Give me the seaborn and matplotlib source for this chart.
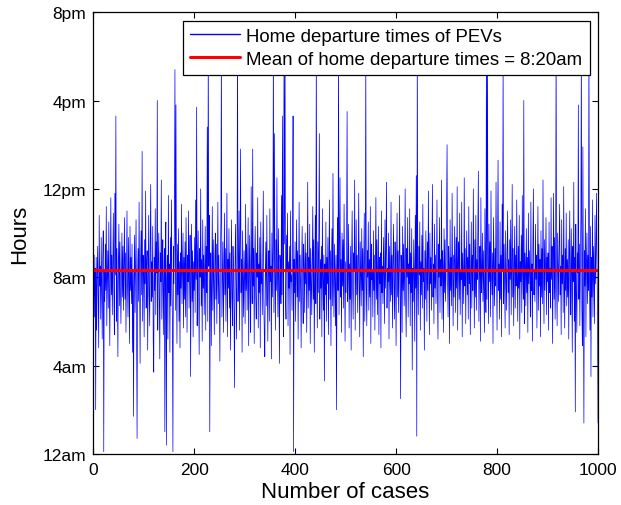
import numpy as np
import pandas as pd
import matplotlib
matplotlib.use("Agg")
import matplotlib.pyplot as plt
import seaborn as sns

# ---------------------------------------------------------------
# data: home departure time (hours after midnight) for each case
# ---------------------------------------------------------------
departure_hours = [
    7.1, 9.0, 6.2, 8.4, 2.0, 8.9, 5.6, 8.2, 9.4, 7.0, 4.8, 10.8, 7.6, 8.5, 6.1, 9.8, 7.3, 5.2, 8.7, 10.1,
    0.1, 8.3, 6.9, 9.5, 7.4, 11.2, 5.8, 8.0, 9.2, 6.6, 10.5, 7.8, 4.9, 8.6, 11.6, 7.2, 9.0, 6.3, 8.4, 10.9,
    7.5, 5.4, 11.8, 8.1, 15.3, 6.0, 9.3, 7.7, 4.4, 8.8, 10.4, 6.7, 9.6, 7.9, 5.9, 8.2, 10.0, 7.1, 9.4, 6.5,
    8.7, 10.7, 7.0, 9.1, 5.5, 8.4, 11.0, 7.6, 6.2, 9.8, 8.0, 5.0, 10.3, 7.4, 8.9, 6.8, 9.5, 4.6, 8.3, 1.7,
    7.8, 9.9, 6.4, 8.6, 10.6, 5.7, 0.7, 8.1, 9.3, 6.9, 11.4, 7.5, 4.1, 8.8, 10.1, 7.2, 13.7, 6.0, 9.0, 8.4,
    5.3, 9.7, 7.7, 11.9, 6.6, 8.5, 9.2, 4.7, 8.0, 10.8, 7.3, 5.8, 9.4, 12.2, 6.9, 8.7, 7.1, 10.3, 5.1, 3.7,
    8.9, 7.4, 11.1, 6.3, 9.6, 8.2, 16.0, 5.6, 8.8, 10.0, 7.0, 4.3, 9.1, 7.8, 12.4, 6.1, 8.5, 9.7, 5.4, 7.6,
    9.3, 1.0, 8.1, 10.5, 0.4, 7.9, 9.0, 5.2, 11.7, 7.3, 8.6, 4.6, 9.8, 6.7, 11.5, 8.2, 5.9, 0.1, 9.4, 7.7,
    10.9, 17.4, 6.5, 15.8, 8.0, 5.0, 9.5, 7.2, 10.2, 6.0, 8.7, 4.8, 9.1, 7.5, 11.3, 6.8, 8.4, 10.0, 5.7, 8.9,
    7.0, 9.6, 6.2, 10.7, 8.3, 5.5, 9.0, 7.8, 11.0, 6.6, 8.5, 9.9, 3.5, 8.1, 10.4, 6.9, 9.2, 5.3, 8.7, 7.4,
    9.8, 6.4, 11.5, 7.9, 15.7, 5.8, 8.6, 10.1, 7.1, 4.5, 9.3, 8.0, 12.0, 6.7, 8.8, 5.1, 10.6, 7.5, 9.0, 6.3,
    8.2, 10.3, 5.6, 9.4, 7.3, 14.8, 6.0, 19.0, 8.5, 10.8, 1.0, 7.8, 9.1, 4.9, 8.4, 11.2, 6.5, 9.7, 7.6, 5.4,
    8.9, 10.0, 7.0, 9.5, 5.9, 8.3, 11.4, 6.8, 9.0, 7.4, 4.2, 8.7, 10.5, 18.5, 6.2, 8.1, 9.6, 5.5, 7.9, 10.9,
    7.2, 9.3, 6.0, 8.6, 11.8, 5.3, 8.8, 7.5, 10.2, 6.6, 9.1, 4.7, 8.0, 10.6, 7.1, 5.8, 9.4, 8.2, 6.4, 3.0,
    8.5, 10.4, 7.7, 5.2, 9.0, 19.5, 6.9, 8.3, 11.0, 5.6, 9.7, 13.8, 7.3, 8.8, 4.6, 10.1, 7.9, 6.2, 9.2, 8.0,
    5.9, 11.3, 7.4, 9.5, 6.5, 8.7, 10.7, 4.9, 8.1, 9.9, 7.0, 5.5, 12.1, 8.4, 6.8, 13.8, 7.6, 9.3, 5.0, 8.9,
    10.3, 7.2, 6.1, 9.1, 8.0, 11.6, 5.7, 8.6, 7.3, 9.8, 4.8, 10.5, 7.7, 8.3, 6.3, 9.4, 11.9, 7.0, 5.4, 4.4,
    8.2, 9.6, 6.7, 10.8, 7.5, 5.1, 8.9, 9.2, 6.0, 11.1, 7.8, 8.5, 4.3, 10.0, 7.1, 9.3, 19.0, 6.4, 14.5, 8.1,
    5.6, 9.7, 7.4, 12.5, 8.0, 6.2, 10.2, 7.9, 4.1, 9.0, 8.6, 6.8, 11.7, 7.2, 15.3, 8.4, 5.3, 18.0, 9.5, 19.5,
    7.0, 6.1, 9.9, 8.3, 10.9, 5.8, 8.7, 7.5, 9.4, 4.5, 11.0, 7.8, 8.1, 6.5, 10.1, 15.3, 0.1, 8.8, 7.3, 9.6,
    6.0, 8.5, 10.6, 7.1, 9.2, 5.2, 8.0, 11.4, 6.9, 9.0, 7.6, 4.8, 8.6, 10.3, 7.2, 5.9, 9.5, 8.2, 6.4, 10.0,
    7.7, 9.1, 5.5, 8.4, 12.3, 6.6, 8.9, 7.4, 10.4, 5.0, 9.3, 7.9, 6.3, 8.7, 11.2, 7.0, 9.7, 4.6, 8.1, 10.8,
    6.8, 18.5, 8.3, 5.7, 9.6, 7.3, 10.1, 14.5, 6.1, 8.8, 7.5, 9.4, 5.3, 11.1, 8.0, 6.5, 9.0, 3.3, 8.6, 7.2,
    10.5, 6.0, 8.9, 7.7, 9.8, 5.4, 8.2, 11.5, 7.0, 9.2, 4.9, 8.5, 10.2, 6.7, 12.7, 7.9, 6.2, 9.5, 8.1, 5.8,
    9.0, 2.0, 8.4, 10.7, 7.4, 19.0, 6.3, 9.3, 12.5, 7.1, 8.8, 5.5, 10.0, 7.6, 9.7, 6.6, 11.3, 8.0, 5.1, 8.7,
    7.3, 9.9, 15.5, 6.9, 8.2, 10.4, 5.7, 8.6, 7.0, 9.4, 4.7, 8.9, 11.0, 7.5, 6.1, 9.1, 8.3, 12.4, 5.6, 8.0,
    10.6, 7.2, 9.0, 6.4, 8.5, 11.8, 7.8, 5.3, 9.6, 8.1, 6.7, 10.2, 7.4, 9.3, 4.4, 8.7, 10.9, 6.0, 8.4, 18.0,
    7.6, 5.8, 9.2, 8.0, 10.5, 6.5, 8.8, 7.1, 11.2, 5.0, 9.5, 7.9, 8.3, 6.2, 10.1, 7.4, 9.0, 5.6, 8.6, 11.6,
    7.0, 9.7, 6.3, 8.2, 10.3, 5.4, 8.9, 7.7, 9.1, 4.8, 11.0, 7.3, 8.5, 6.8, 9.8, 8.1, 5.9, 10.6, 7.5, 9.3,
    12.3, 6.6, 8.4, 7.8, 10.0, 5.2, 9.4, 8.0, 6.9, 11.4, 7.2, 9.0, 5.7, 8.7, 10.4, 7.5, 6.1, 9.6, 8.3, 4.9,
    8.8, 10.9, 7.1, 9.2, 6.4, 8.5, 11.7, 7.6, 2.5, 9.0, 8.2, 5.5, 10.3, 7.4, 9.5, 6.7, 8.1, 12.0, 7.0, 5.3,
    9.3, 8.0, 10.7, 6.2, 8.6, 7.7, 11.1, 5.8, 9.1, 7.3, 10.2, 3.8, 8.4, 6.9, 9.7, 8.2, 5.1, 10.8, 7.5, 12.6,
    0.8, 19.0, 7.9, 6.3, 9.4, 8.1, 10.5, 5.6, 8.7, 7.2, 9.9, 6.6, 11.3, 7.8, 8.4, 4.7, 9.2, 7.0, 10.1, 8.5,
    6.0, 9.6, 7.4, 11.9, 8.2, 5.4, 10.0, 7.7, 8.9, 6.5, 9.3, 12.2, 7.1, 8.6, 5.9, 10.4, 7.5, 9.0, 6.8, 8.3,
    11.5, 7.2, 5.2, 9.5, 8.0, 10.7, 6.4, 8.8, 7.6, 12.4, 6.1, 9.2, 8.4, 5.5, 10.2, 7.3, 9.7, 6.9, 8.1, 11.0,
    14.0, 7.8, 6.2, 9.4, 8.5, 5.0, 10.6, 7.4, 8.9, 6.7, 11.8, 8.2, 5.8, 9.0, 7.1, 10.3, 8.6, 6.4, 9.8, 7.5,
    12.1, 5.6, 8.7, 9.6, 7.0, 10.9, 6.3, 8.3, 7.9, 11.4, 5.3, 9.1, 8.0, 6.8, 12.5, 7.6, 9.3, 5.9, 8.5, 10.1,
    7.2, 8.9, 6.1, 11.2, 7.7, 9.5, 5.4, 8.2, 10.5, 6.6, 9.0, 7.4, 12.0, 8.4, 5.7, 9.7, 7.1, 10.8, 6.5, 8.8,
    7.9, 10.2, 12.8, 6.0, 8.6, 9.4, 5.1, 11.6, 7.3, 8.1, 10.0, 6.9, 9.2, 7.5, 5.5, 11.1, 8.3, 6.4, 19.5, 7.0,
    18.5, 8.7, 5.9, 10.4, 7.8, 9.6, 6.2, 11.9, 8.0, 7.2, 9.1, 5.0, 10.7, 8.5, 6.7, 9.3, 7.6, 12.3, 8.2, 5.6,
    9.8, 13.3, 7.4, 8.6, 6.1, 10.5, 7.0, 9.0, 5.3, 11.3, 8.3, 18.0, 6.8, 9.5, 7.7, 5.7, 10.1, 8.0, 6.5, 9.2,
    11.0, 7.3, 8.8, 5.4, 9.7, 7.9, 10.6, 6.3, 8.4, 12.2, 7.1, 9.3, 5.8, 8.5, 10.3, 6.6, 9.0, 7.6, 11.5, 8.1,
    6.0, 9.4, 7.5, 10.8, 5.2, 8.7, 7.8, 9.9, 6.4, 11.7, 8.2, 7.0, 16.0, 5.9, 9.1, 8.4, 6.7, 10.2, 7.3, 8.9,
    5.5, 10.9, 7.7, 9.2, 8.0, 6.2, 11.4, 7.4, 8.6, 5.1, 9.6, 12.0, 7.2, 8.3, 6.9, 10.4, 7.9, 9.0, 5.7, 8.5,
    11.2, 6.5, 9.5, 7.6, 8.8, 5.3, 10.1, 7.1, 9.3, 6.8, 12.4, 8.1, 5.9, 9.7, 7.4, 8.6, 10.7, 6.3, 8.9, 7.8,
    9.1, 5.6, 10.5, 7.3, 8.4, 6.6, 11.6, 7.9, 9.4, 5.0, 8.2, 11.8, 7.0, 9.8, 6.1, 8.7, 19.0, 7.5, 5.8, 10.0,
    8.3, 6.9, 9.6, 11.3, 7.2, 8.5, 5.4, 10.6, 7.7, 9.0, 6.4, 12.1, 8.0, 5.7, 9.3, 7.4, 10.9, 6.7, 8.8, 7.1,
    9.7, 5.2, 8.6, 11.0, 7.5, 6.3, 10.2, 8.1, 4.6, 9.4, 7.8, 12.3, 6.0, 8.9, 1.9, 10.4, 7.3, 5.5, 9.1, 8.2,
    15.8, 7.0, 9.5, 5.8, 8.4, 10.7, 18.5, 6.6, 4.9, 13.9, 8.0, 1.4, 9.2, 7.6, 11.1, 5.3, 8.7, 10.0, 6.8, 9.0,
    7.4, 19.0, 8.3, 5.6, 10.3, 3.5, 8.9, 7.1, 11.5, 6.2, 9.4, 8.0, 5.9, 10.8, 7.7, 9.1, 11.8, 8.5, 6.5, 1.4,
]
case_numbers = list(range(1, len(departure_hours) + 1))
mean_hours = 8 + 20 / 60  # 8:20am

y_ticks = [0, 4, 8, 12, 16, 20]
y_tick_labels = ["12am", "4am", "8am", "12pm", "4pm", "8pm"]
x_ticks = [0, 200, 400, 600, 800, 1000]

df = pd.DataFrame({"case": case_numbers, "hours": departure_hours})

# ---------------------------------------------------------------
# figure (MATLAB-like look)
# ---------------------------------------------------------------
sns.set_style("ticks")
plt.rcParams["font.family"] = ["Liberation Sans", "DejaVu Sans"]
plt.rcParams["text.color"] = "black"
plt.rcParams["axes.labelcolor"] = "black"
plt.rcParams["xtick.color"] = "black"
plt.rcParams["ytick.color"] = "black"

fig = plt.figure(figsize=(6.21, 5.06), dpi=100)
ax = fig.add_axes([0.150, 0.101, 0.813, 0.873])

sns.lineplot(data=df, x="case", y="hours", ax=ax, color="#0000ff", linewidth=0.5,
             label="Home departure times of PEVs")
ax.axhline(mean_hours, color="#ff0000", linewidth=2.2,
           label="Mean of home departure times = 8:20am")

ax.set_xlim(0, 1000)
ax.set_ylim(0, 20)
ax.set_xticks(x_ticks)
ax.set_yticks(y_ticks)
ax.set_yticklabels(y_tick_labels)
ax.tick_params(direction="in", top=True, right=True, length=4, width=0.8,
               labelsize=12.5, colors="black")
ax.tick_params(axis="x", pad=6)
ax.tick_params(axis="y", pad=5)
for s in ax.spines.values():
    s.set_visible(True)
    s.set_color("black")
    s.set_linewidth(0.9)

ax.set_xlabel("Number of cases", fontsize=16, labelpad=3)
ax.set_ylabel("Hours", fontsize=16, labelpad=9)

leg = ax.legend(loc="upper right", fontsize=13.4, frameon=True, fancybox=False,
                framealpha=1, edgecolor="black", borderaxespad=0.45,
                handlelength=2.7, handletextpad=0.3, labelspacing=0.3,
                borderpad=0.4)
leg.get_frame().set_linewidth(0.9)
leg.get_lines()[0].set_linewidth(1.0)
for t in leg.get_texts():
    t.set_color("black")

fig.savefig("out.png", dpi=100)
